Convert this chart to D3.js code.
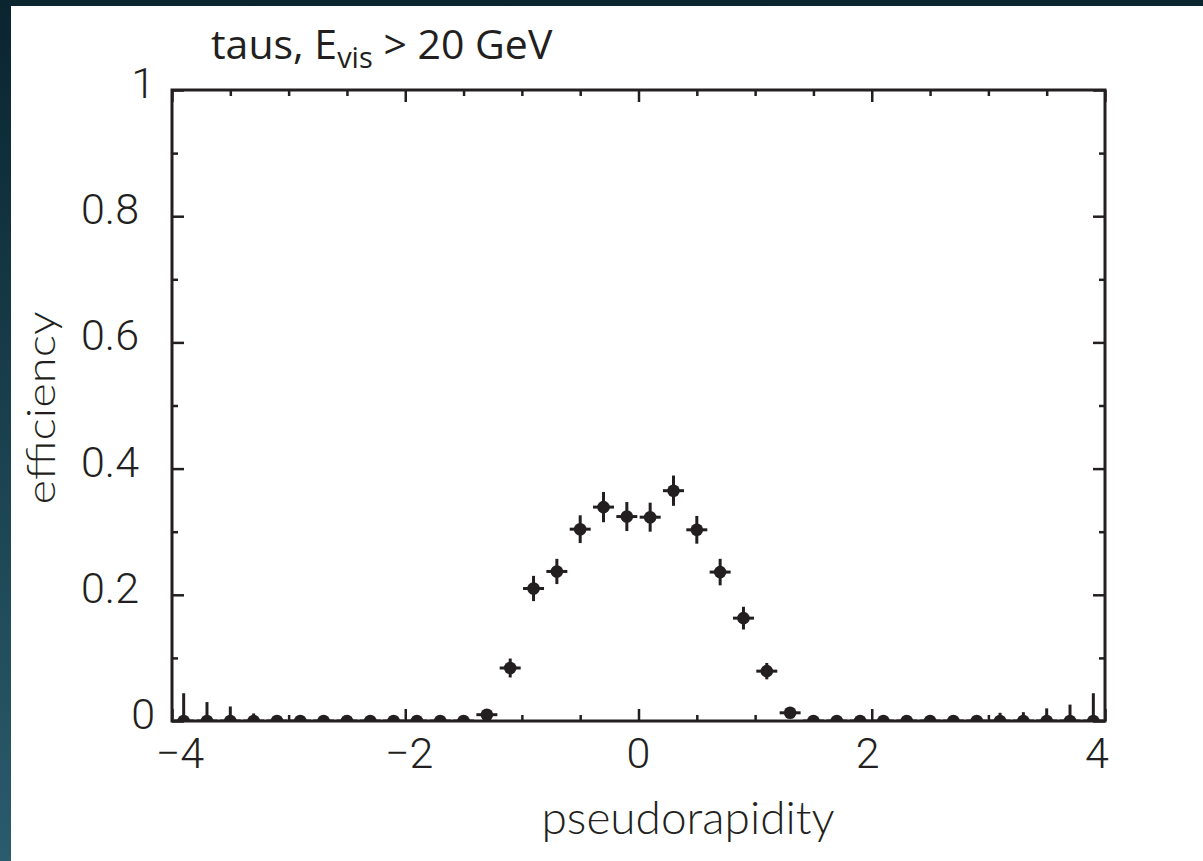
<!DOCTYPE html>
<html>
<head>
<meta charset="utf-8">
<script src="https://cdn.jsdelivr.net/npm/d3@7"></script>
<style>
  html, body { margin: 0; padding: 0; background: #ffffff; overflow: hidden; }
  svg { display: block; }
</style>
</head>
<body>
<svg id="chart" width="1203" height="861"></svg>
<script>
// Tau identification efficiency vs pseudorapidity (E_vis > 20 GeV), 0.2-wide bins.
const etaCenters = [
  -3.9, -3.7, -3.5, -3.3, -3.1, -2.9, -2.7, -2.5, -2.3, -2.1,
  -1.9, -1.7, -1.5, -1.3, -1.1, -0.9, -0.7, -0.5, -0.3, -0.1,
   0.1,  0.3,  0.5,  0.7,  0.9,  1.1,  1.3,  1.5,  1.7,  1.9,
   2.1,  2.3,  2.5,  2.7,  2.9,  3.1,  3.3,  3.5,  3.7,  3.9
];
const efficiency = [
  0, 0, 0, 0, 0, 0, 0, 0, 0, 0,
  0, 0, 0, 0.010, 0.084, 0.210, 0.237, 0.304, 0.339, 0.324,
  0.323, 0.365, 0.303, 0.236, 0.163, 0.079, 0.013, 0, 0, 0,
  0, 0, 0, 0, 0, 0, 0, 0, 0, 0
];
const errLow = [
  0, 0, 0, 0, 0, 0, 0, 0, 0, 0,
  0, 0, 0, 0.005, 0.015, 0.020, 0.020, 0.022, 0.024, 0.023,
  0.023, 0.024, 0.022, 0.021, 0.018, 0.013, 0.005, 0, 0, 0,
  0, 0, 0, 0, 0, 0, 0, 0, 0, 0
];
const errHigh = [
  0.044, 0.030, 0.023, 0.012, 0.008, 0.006, 0.005, 0.005, 0.005, 0.005,
  0.005, 0.005, 0.005, 0.005, 0.015, 0.020, 0.020, 0.022, 0.024, 0.023,
  0.023, 0.024, 0.022, 0.021, 0.018, 0.013, 0.005, 0.005, 0.005, 0.005,
  0.005, 0.005, 0.005, 0.005, 0.007, 0.013, 0.014, 0.020, 0.026, 0.044
];
const etaHalfWidth = 0.09;

const xTickValues = [-4, -2, 0, 2, 4];
const xTickLabels = ["\u22124", "\u22122", "0", "2", "4"];
const yTickValues = [0, 0.2, 0.4, 0.6, 0.8, 1];
const yTickLabels = ["0", "0.2", "0.4", "0.6", "0.8", "1"];

const titleMain = "taus, E";
const titleSub = "vis";
const titleRest = " > 20 GeV";
const xTitle = "pseudorapidity";
const yTitle = "efficiency";

const ink = "#231f20";
const plot = { left: 172, right: 1105, top: 90, bottom: 721 };

const svg = d3.select("#chart");

// Dark backdrop with white card
const defs = svg.append("defs");
const grad = defs.append("linearGradient")
  .attr("id", "bg").attr("x1", 0).attr("y1", 0).attr("x2", 0).attr("y2", 1);
grad.append("stop").attr("offset", "0%").attr("stop-color", "#0a2430");
grad.append("stop").attr("offset", "100%").attr("stop-color", "#2a5c6c");
svg.append("rect").attr("width", 1203).attr("height", 861).attr("fill", "url(#bg)");
svg.append("rect").attr("x", 11).attr("y", 6).attr("width", 1192).attr("height", 855).attr("fill", "#ffffff");

defs.append("clipPath").attr("id", "plotClip")
  .append("rect")
  .attr("x", plot.left).attr("y", plot.top)
  .attr("width", plot.right - plot.left).attr("height", plot.bottom - plot.top);

const x = d3.scaleLinear().domain([-4, 4]).range([plot.left, plot.right]);
const y = d3.scaleLinear().domain([0, 1]).range([plot.bottom, plot.top]);

const data = etaCenters.map((c, i) => ({
  eta: c, eff: efficiency[i], lo: errLow[i], hi: errHigh[i]
}));

// Data points with error bars
const pts = svg.append("g").attr("clip-path", "url(#plotClip)");
pts.selectAll("line.ey").data(data).join("line")
  .attr("class", "ey")
  .attr("x1", d => x(d.eta)).attr("x2", d => x(d.eta))
  .attr("y1", d => y(d.eff - d.lo)).attr("y2", d => y(d.eff + d.hi))
  .attr("stroke", ink).attr("stroke-width", 3);
pts.selectAll("line.ex").data(data).join("line")
  .attr("class", "ex")
  .attr("x1", d => x(d.eta - etaHalfWidth)).attr("x2", d => x(d.eta + etaHalfWidth))
  .attr("y1", d => y(d.eff)).attr("y2", d => y(d.eff))
  .attr("stroke", ink).attr("stroke-width", 3);
pts.selectAll("circle").data(data).join("circle")
  .attr("cx", d => x(d.eta)).attr("cy", d => y(d.eff))
  .attr("r", 6.3).attr("fill", ink);

// Inward ticks on all four sides
const xMinor = d3.range(-4, 4.001, 0.5).filter(v => Math.abs(v % 2) > 1e-6);
const yMinor = d3.range(0, 1.001, 0.1).map(v => +v.toFixed(1)).filter(v => !yTickValues.includes(v));

function tickGroup(axis, tx, ty) {
  const g = svg.append("g").attr("transform", `translate(${tx},${ty})`).call(axis);
  g.select(".domain").remove();
  g.selectAll(".tick line").attr("stroke", ink).attr("stroke-width", 2.5);
  g.selectAll(".tick text").remove();
  return g;
}
tickGroup(d3.axisBottom(x).tickValues(xTickValues).tickSize(-12), 0, plot.bottom);
tickGroup(d3.axisBottom(x).tickValues(xMinor).tickSize(-6), 0, plot.bottom);
tickGroup(d3.axisTop(x).tickValues(xTickValues).tickSize(-12), 0, plot.top);
tickGroup(d3.axisTop(x).tickValues(xMinor).tickSize(-6), 0, plot.top);
tickGroup(d3.axisLeft(y).tickValues(yTickValues).tickSize(-12), plot.left, 0);
tickGroup(d3.axisLeft(y).tickValues(yMinor).tickSize(-6), plot.left, 0);
tickGroup(d3.axisRight(y).tickValues(yTickValues).tickSize(-12), plot.right, 0);
tickGroup(d3.axisRight(y).tickValues(yMinor).tickSize(-6), plot.right, 0);

// Frame
svg.append("rect")
  .attr("x", plot.left).attr("y", plot.top)
  .attr("width", plot.right - plot.left).attr("height", plot.bottom - plot.top)
  .attr("fill", "none").attr("stroke", ink).attr("stroke-width", 3);

// Tick labels
const tickFont = "Roboto, 'Liberation Sans', sans-serif";
svg.append("g").selectAll("text").data(xTickValues).join("text")
  .attr("x", v => x(v) - v * 2)
  .attr("y", 768)
  .attr("text-anchor", "middle")
  .attr("font-family", tickFont).attr("font-weight", 300)
  .attr("font-size", 43).attr("fill", ink)
  .text((v, i) => xTickLabels[i]);

svg.append("g").selectAll("text").data(yTickValues).join("text")
  .attr("x", (v, i) => yTickLabels[i].length > 1 ? 139 : 155)
  .attr("y", v => y(v) + 8)
  .attr("text-anchor", "end")
  .attr("font-family", tickFont).attr("font-weight", 300)
  .attr("font-size", 43).attr("fill", ink)
  .text((v, i) => yTickLabels[i]);

// Axis titles
svg.append("text")
  .attr("x", 688).attr("y", 834)
  .attr("text-anchor", "middle")
  .attr("font-family", "Lato, sans-serif").attr("font-weight", 300)
  .attr("font-size", 46).attr("fill", ink)
  .attr("textLength", 293).attr("lengthAdjust", "spacingAndGlyphs")
  .text(xTitle);

svg.append("text")
  .attr("transform", "translate(55,408) rotate(-90)")
  .attr("text-anchor", "middle")
  .attr("font-family", "Lato, sans-serif").attr("font-weight", 300)
  .attr("font-size", 39).attr("fill", ink)
  .attr("textLength", 193).attr("lengthAdjust", "spacingAndGlyphs")
  .text(yTitle);

// Title
const title = svg.append("text")
  .attr("x", 211).attr("y", 59)
  .attr("font-family", "'Open Sans', 'Noto Sans', sans-serif")
  .attr("font-size", 41).attr("fill", ink);
title.append("tspan").text(titleMain);
title.append("tspan").attr("font-size", 29).attr("dy", 9).text(titleSub);
title.append("tspan").attr("dy", -9).text(titleRest);
</script>
</body>
</html>
